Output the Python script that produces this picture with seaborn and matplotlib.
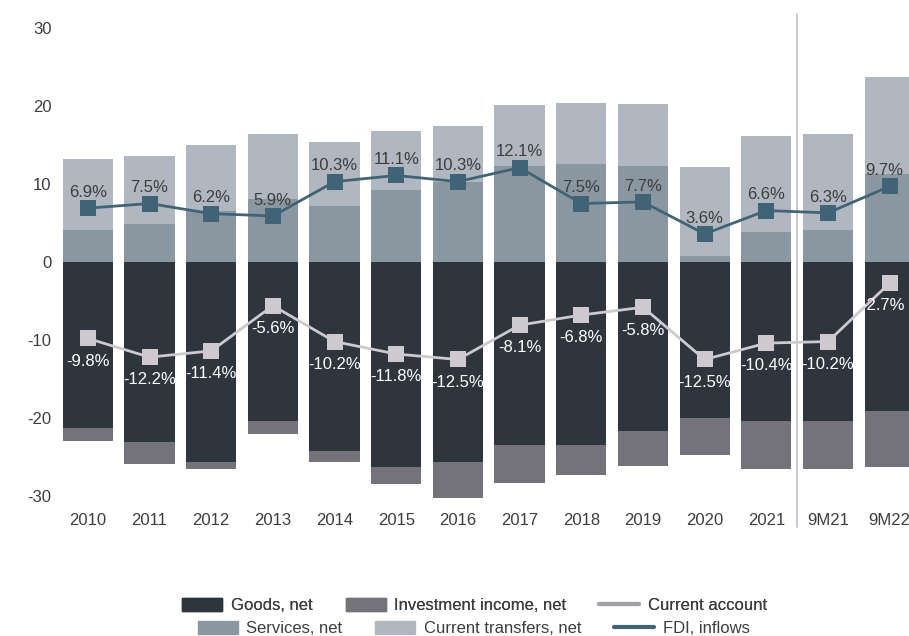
import numpy as np
import pandas as pd
import matplotlib
matplotlib.use("Agg")
import matplotlib.pyplot as plt
from matplotlib.patches import Patch
from matplotlib.lines import Line2D
import seaborn as sb

# data
periods = ["2010", "2011", "2012", "2013", "2014", "2015", "2016",
           "2017", "2018", "2019", "2020", "2021", "9M21", "9M22"]
services = [4.1, 4.9, 6.5, 8.1, 7.2, 9.2, 10.3, 12.35, 12.6, 12.35, 0.8, 3.9, 4.1, 11.3]
transfers = [9.1, 8.7, 8.5, 8.3, 8.2, 7.6, 7.2, 7.8, 7.8, 7.9, 11.4, 12.3, 12.3, 12.4]
goods = [-21.3, -23.1, -25.6, -20.4, -24.2, -26.3, -25.6, -23.5, -23.5, -21.7, -20.0, -20.4, -20.4, -19.1]
invest = [-1.7, -2.8, -1.0, -1.7, -1.4, -2.2, -4.7, -4.8, -3.8, -4.5, -4.7, -6.2, -6.2, -7.2]
fdi = [6.9, 7.5, 6.2, 5.9, 10.3, 11.1, 10.3, 12.1, 7.5, 7.7, 3.6, 6.6, 6.3, 9.7]
current_acc = [-9.8, -12.2, -11.4, -5.6, -10.2, -11.8, -12.5, -8.1, -6.8, -5.8, -12.5, -10.4, -10.2, -2.7]

c_goods = "#2e353c"
c_inv = "#747379"
c_serv = "#8a97a1"
c_trans = "#b0b7c1"
c_fdi = "#416376"
c_ca = "#cdc9cf"
txt = "#3d3d3d"

sb.set_style("white")
plt.rcParams["font.family"] = ["Liberation Sans", "DejaVu Sans"]
plt.rcParams["axes.unicode_minus"] = False

pos = np.arange(len(periods))
df = pd.DataFrame({"pos": pos, "services": services, "transfers": transfers,
                   "goods": goods, "invest": invest})
df["pos_total"] = df["services"] + df["transfers"]
df["neg_total"] = df["goods"] + df["invest"]

fig = plt.figure(figsize=(9.09, 6.36), dpi=100)
ax = fig.add_axes([0.0627, 0.2079, 0.950, 0.7603])

bar_kw = dict(x="pos", data=df, width=0.815, saturation=1, linewidth=0, errorbar=None, ax=ax)
# stacked by drawing the totals first and the inner layer over them
sb.barplot(y="pos_total", color=c_trans, **bar_kw)
sb.barplot(y="services", color=c_serv, **bar_kw)
sb.barplot(y="neg_total", color=c_inv, **bar_kw)
sb.barplot(y="goods", color=c_goods, **bar_kw)

sb.lineplot(x=pos, y=current_acc, color=c_ca, linewidth=2, marker="s",
            markersize=11.5, markeredgewidth=0, ax=ax, zorder=5)
sb.lineplot(x=pos, y=fdi, color=c_fdi, linewidth=2, marker="s",
            markersize=11.5, markeredgewidth=0, ax=ax, zorder=5)

last = len(periods) - 1
for i, v in enumerate(fdi):
    dx = -4 if i == last else 0
    ax.annotate(f"{v}%", (i, v), xytext=(dx, 6), textcoords="offset points",
                ha="center", va="bottom", fontsize=12, color=txt, zorder=6)
for i, v in enumerate(current_acc):
    dx = -5 if i == last else 0
    ax.annotate(f"{v}%", (i, v), xytext=(dx, -11), textcoords="offset points",
                ha="center", va="top", fontsize=12, color="white", zorder=6)

ax.set_xlim(-0.5, len(periods) - 0.5)
ax.set_ylim(-31, 31)
ax.set_yticks([-30, -20, -10, 0, 10, 20, 30])
ax.set_xticks(pos, periods)
ax.set_xlabel("")
ax.set_ylabel("")
ax.tick_params(axis="both", length=0, labelsize=12, labelcolor=txt)
ax.tick_params(axis="x", pad=7)
ax.tick_params(axis="y", pad=4)
sb.despine(ax=ax, left=True, bottom=True)

# separator between full years and 9M figures
ax.axvline(11.5, ymin=-0.048, ymax=1.013, color="#bcc1c8", linewidth=1.2, clip_on=False, zorder=1)

row1 = [Patch(color=c_goods, label="Goods, net"),
        Patch(color=c_inv, label="Investment income, net"),
        Line2D([], [], color="#a3a1a6", linewidth=3, label="Current account")]
row2 = [Patch(color=c_serv, label="Services, net"),
        Patch(color=c_trans, label="Current transfers, net"),
        Line2D([], [], color=c_fdi, linewidth=3, label="FDI, inflows")]
leg_kw = dict(ncol=3, frameon=False, fontsize=12, handlelength=2.4, handleheight=0.9,
              handletextpad=0.5, columnspacing=2.0, labelcolor=txt, borderpad=0)
leg1 = fig.legend(handles=row1, loc="center", bbox_to_anchor=(0.522, 0.048), **leg_kw)
fig.add_artist(leg1)
fig.legend(handles=row2, loc="center", bbox_to_anchor=(0.521, 0.012), **leg_kw)

fig.savefig("out.png", dpi=100)
